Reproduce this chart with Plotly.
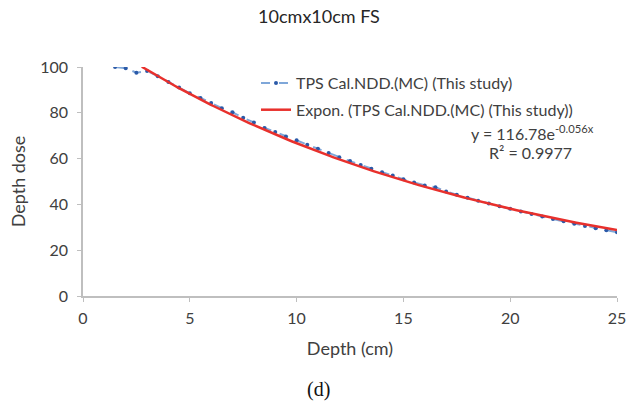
import numpy as np
import plotly.graph_objects as go

# Measured/calculated normalized depth dose (MC) for a 10 cm x 10 cm field
depth_cm = [1.5, 2.0, 2.5, 3.0, 3.5, 4.0, 4.5, 5.0, 5.5, 6.0, 6.5, 7.0, 7.5, 8.0,
            8.5, 9.0, 9.5, 10.0, 10.5, 11.0, 11.5, 12.0, 12.5, 13.0, 13.5, 14.0,
            14.5, 15.0, 15.5, 16.0, 16.5, 17.0, 17.5, 18.0, 18.5, 19.0, 19.5,
            20.0, 20.5, 21.0, 21.5, 22.0, 22.5, 23.0, 23.5, 24.0, 24.5, 25.0]
ndd_mc = [100.0, 99.5, 97.5, 98.3, 96.0, 93.5, 91.0, 88.5, 86.5, 84.3, 82.0,
          80.2, 77.8, 75.8, 73.4, 71.6, 69.7, 68.0, 66.0, 64.3, 62.5, 60.6,
          58.9, 57.2, 55.6, 54.0, 52.6, 51.0, 49.6, 48.3, 47.5, 45.6, 44.2,
          42.9, 41.6, 40.4, 39.2, 38.1, 36.9, 35.8, 34.7, 33.6, 32.6, 31.6,
          30.6, 29.6, 28.7, 27.8]

# Exponential trendline parameters (y = a * exp(b x)) and fit quality
fit_a = 116.78
fit_b = -0.056
fit_r2 = 0.9977
fit_range = [2.75, 25.0]

x_ticks = [0, 5, 10, 15, 20, 25]
y_ticks = [0, 20, 40, 60, 80, 100]

fit_x = np.linspace(fit_range[0], fit_range[1], 200)
fit_y = fit_a * np.exp(fit_b * fit_x)

W, H = 638, 408
L, R, T, B = 83, 21, 67, 112

text_font = "Lato, 'Open Sans', sans-serif"
grey_text = "#404040"
axis_grey = "#bfbfbf"

fig = go.Figure()

fig.add_trace(go.Scatter(
    x=depth_cm, y=ndd_mc, mode="lines+markers",
    name="TPS Cal.NDD.(MC) (This study)",
    line=dict(color="#7fa7d9", width=2, dash="dash"),
    marker=dict(color="#2b5aa8", size=4),
    legendgroup="a",
))

fig.add_trace(go.Scatter(
    x=fit_x, y=fit_y, mode="lines",
    name="Expon. (TPS Cal.NDD.(MC) (This study))",
    line=dict(color="#e8302c", width=2.5),
    legendgroup="b",
))


def px_x(p):
    return (p - L) / (W - L - R)


def px_y(p):
    return (H - B - p) / (H - T - B)


fig.add_annotation(
    x=px_x(469), y=px_y(132), xref="paper", yref="paper",
    xanchor="left", yanchor="middle", showarrow=False,
    text=f"y = {fit_a:.2f}e<sup>{fit_b:.3f}x</sup>",
    font=dict(family=text_font, size=16, color=grey_text),
)
fig.add_annotation(
    x=px_x(487), y=px_y(152), xref="paper", yref="paper",
    xanchor="left", yanchor="middle", showarrow=False,
    text=f"R² = {fit_r2:.4f}",
    font=dict(family=text_font, size=16, color=grey_text),
)
fig.add_annotation(
    x=px_x(318), y=px_y(389), xref="paper", yref="paper",
    xanchor="center", yanchor="middle", showarrow=False,
    text="(d)",
    font=dict(family="'Liberation Serif', 'DejaVu Serif', serif", size=20, color="#111111"),
)

fig.update_layout(
    width=W, height=H,
    margin=dict(l=L, r=R, t=T, b=B),
    paper_bgcolor="white", plot_bgcolor="white",
    title=dict(text="10cmx10cm FS", x=0.5, xref="container", xanchor="center",
               y=1 - 17 / H, yref="container", yanchor="middle",
               font=dict(family=text_font, size=18, color="#262626")),
    legend=dict(x=px_x(256), y=px_y(66), xanchor="left", yanchor="top",
                bgcolor="rgba(0,0,0,0)", tracegroupgap=3,
                font=dict(family=text_font, size=16, color=grey_text)),
    xaxis=dict(range=[0, 25], tickvals=x_ticks, showgrid=False, zeroline=False,
               showline=True, linecolor=axis_grey, linewidth=1.5,
               ticks="outside", ticklen=4, tickcolor=axis_grey,
               ticklabelstandoff=3,
               tickfont=dict(family=text_font, size=16, color=grey_text),
               title=dict(text="Depth (cm)", standoff=16,
                          font=dict(family=text_font, size=18, color=grey_text))),
    yaxis=dict(range=[0, 100], tickvals=y_ticks, showgrid=False, zeroline=False,
               showline=True, linecolor=axis_grey, linewidth=1.5,
               ticks="outside", ticklen=4, tickcolor=axis_grey,
               ticklabelstandoff=6,
               tickfont=dict(family=text_font, size=16, color=grey_text),
               title=dict(text="Depth dose", standoff=10,
                          font=dict(family=text_font, size=18, color=grey_text))),
)

fig.write_html("out.html")
